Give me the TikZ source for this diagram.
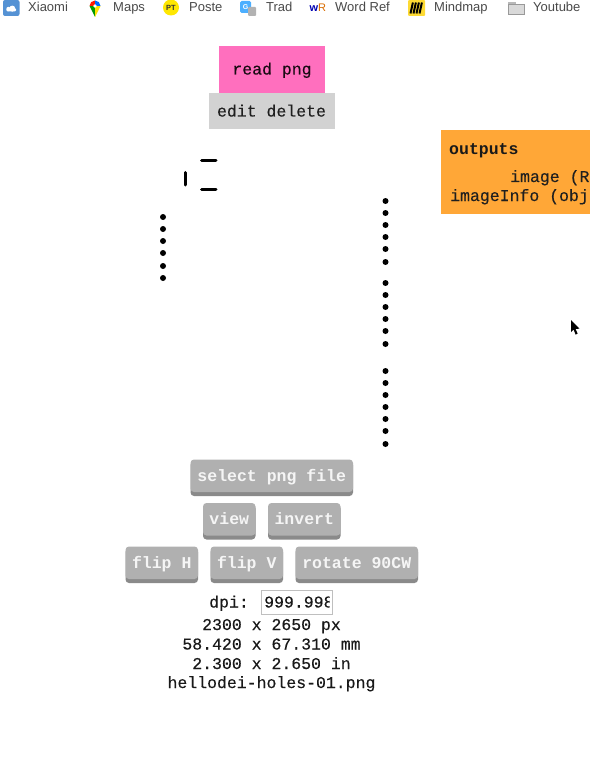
\documentclass[tikz,border=0pt]{standalone}
\usepackage{fontspec}
\setmainfont{Liberation Sans}
\newfontfamily\mono[FakeBold=0.3]{Liberation Mono}
\newfontfamily\monoplain{Liberation Mono}
\definecolor{pinkbtn}{HTML}{FF6FBE}
\definecolor{graybox}{HTML}{D2D2D2}
\definecolor{orangebox}{HTML}{FFA737}
\definecolor{btn}{HTML}{B0B0B0}
\definecolor{btnshadow}{HTML}{8A8A8A}
\definecolor{barText}{HTML}{4A4A4A}
\tikzset{
  flatbox/.style={anchor=base,inner sep=0pt,text=black!88,font=\mono\fontsize{16.5}{18}\selectfont},
  barlabel/.style={anchor=base west,inner sep=0pt,text=barText,font=\fontsize{13}{14}\selectfont},
  info/.style={anchor=base,inner sep=0pt,text=black!90,font=\mono\fontsize{16.5}{18}\selectfont},
  btntext/.style={anchor=base,inner sep=0pt,text=white!96!black,font=\monoplain\bfseries\fontsize{16.5}{18}\selectfont},
  dotmark/.style={circle,fill=black,inner sep=0pt,minimum size=6pt},
  dashbar/.style={line width=3pt,black,line cap=round},
}
\newcommand{\pybtn}[6]{% name x0 y0 x1 y1 text
  \fill[btnshadow,rounded corners=3.5pt] (#2,#3+2) rectangle (#4,#5);
  \fill[btn,rounded corners=3.5pt] (#2,#3) rectangle (#4,#5-4);
  \node[btntext] (#1) at ({(#2+#4)/2},{#5-15}) {#6};
}
\begin{document}
\begin{tikzpicture}[x=1pt,y=-1pt]
\useasboundingbox (0,0) rectangle (590,778);
\fill[white] (0,0) rectangle (590,778);

% bookmarks bar
\fill[cyan!55!blue!70,rounded corners=2pt] (3,0) rectangle (19.5,16);
\fill[white,rounded corners=1pt] (6.5,11.5) rectangle (16,8.5);
\fill[white] (8.5,9) circle (2.2);
\fill[white] (12.3,8.6) circle (3);
\node[barlabel] (xiaomi) at (28,12) {Xiaomi};
% map pin
\fill[green!60!black] (89.5,6) -- (95,17) -- (95,6) -- cycle;
\fill[yellow!85!orange] (100.5,6) -- (95,17) -- (95,6) -- cycle;
\fill[red!80!orange] (89.5,6) arc (180:270:5.5) -- (95,6) -- cycle;
\fill[blue!60!cyan] (100.5,6) arc (0:-90:5.5) -- (95,6) -- cycle;
\fill[white] (95,6) circle (1.9);
\node[barlabel] (maps) at (113,12) {Maps};
\fill[yellow!90!orange] (171,7.5) circle (8);
\node[inner sep=0pt,font=\bfseries\fontsize{7.5}{8}\selectfont,text=black!80] (ptlogo) at (171,7.5) {PT};
\node[barlabel] (poste) at (189,12) {Poste};
\fill[blue!45!cyan!70,rounded corners=1.5pt] (240,1) rectangle (251,13);
\fill[gray!60,rounded corners=1pt] (248,7) rectangle (256,16);
\node[inner sep=0pt,font=\bfseries\fontsize{7}{8}\selectfont,text=white] (glogo) at (245.5,7) {G};
\node[barlabel] (trad) at (266,12) {Trad};
\node[anchor=base,inner sep=0pt,font=\bfseries\fontsize{11}{12}\selectfont,text=blue!70!black] (wlogo) at (314,12) {w};
\node[anchor=base,inner sep=0pt,font=\fontsize{11}{12}\selectfont,text=orange!85!black] (rlogo) at (322,12) {R};
\node[barlabel] (wordref) at (335,12) {Word Ref};
\fill[yellow!70!orange!80,rounded corners=1pt] (408,0) rectangle (425,16);
\foreach \xx in {411.5,414.5,417.5,420.5}
  \draw[line width=2pt,black] (\xx+1.4,2.5) -- (\xx-1,13.5);
\node[barlabel] (mindmap) at (434,12) {Mindmap};
\fill[gray!55] (508,2) rectangle (516,5);
\fill[gray!30,draw=gray!80] (508,4.5) rectangle (524,14);
\node[barlabel] (youtube) at (533,12) {Youtube};

% top buttons
\fill[pinkbtn] (219,46) rectangle (325,93);
\node[flatbox,text=black!90!pinkbtn] (readpng) at (272,74.5) {read png};
\fill[graybox] (208.5,93) rectangle (335,129);
\node[flatbox] (editdelete) at (271.5,116.5) {edit delete};

% orange outputs panel
\fill[orangebox] (441,130) rectangle (590,214);
\node[anchor=base west,inner sep=0pt,text=black!90,font=\monoplain\bfseries\fontsize{16.5}{18}\selectfont] (outputs) at (449,154) {outputs};
\node[anchor=base west,inner sep=0pt,text=black!88,font=\mono\fontsize{16.5}{18}\selectfont] (imagelbl) at (510,182) {image (R};
\node[anchor=base west,inner sep=0pt,text=black!88,font=\mono\fontsize{16.5}{18}\selectfont] (infolbl) at (450,201) {imageInfo (obj};

% dashes
\draw[dashbar] (201.5,161) -- (216,161);
\draw[dashbar] (201.5,189.5) -- (216,189.5);
\draw[dashbar] (185.5,172.5) -- (185.5,185);

% dots
\foreach \yy in {217,229,241,253,266,278}
  \node[dotmark] at (163,\yy) {};
\foreach \yy in {201,213,225,237,249,262,283,295,307,319,331,344,371,383,395,407,419,431,444}
  \node[dotmark] at (385.5,\yy) {};

% cursor
\fill[black] (571,320) -- (571,332) -- (573.6,329.6) -- (575.6,334.6) -- (577.6,333.6) -- (575.6,329) -- (579.4,328.6) -- cycle;

% grey buttons
\pybtn{selectpng}{190.5}{459.5}{353}{496}{select png file}
\pybtn{view}{203}{503}{255.5}{539.5}{view}
\pybtn{invert}{268}{503}{340.5}{539.5}{invert}
\pybtn{fliph}{125.5}{546.5}{198}{583}{flip H}
\pybtn{flipv}{210.5}{546.5}{283}{583}{flip V}
\pybtn{rotate}{295.5}{546.5}{418}{583}{rotate 90CW}

% info
\node[info] (dpi) at (229,607.5) {dpi:};
\node[draw=black!25,line width=0.8pt,minimum width=71pt,minimum height=24pt,inner sep=0pt,fill=white] (dpibox) at (296.5,602) {};
\begin{scope}
\clip (262,590) rectangle (329.5,614);
\node[anchor=base west,inner sep=0pt,text=black!90,font=\mono\fontsize{16.5}{18}\selectfont] (dpival) at (264,607.5) {999.998};
\end{scope}
\node[info] (px) at (271.5,630) {2300 x 2650 px};
\node[info] (mm) at (271.5,649.5) {58.420 x 67.310 mm};
\node[info] (in) at (271.5,669) {2.300 x 2.650 in};
\node[info] (fname) at (271.5,688) {hellodei-holes-01.png};
\end{tikzpicture}
\end{document}
